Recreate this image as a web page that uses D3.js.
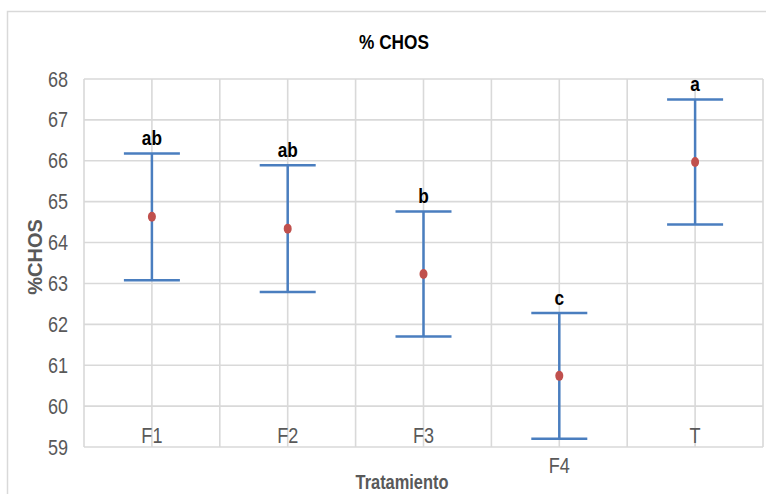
<!DOCTYPE html>
<html>
<head>
<meta charset="utf-8">
<script src="https://cdn.jsdelivr.net/npm/d3@7"></script>
<style>
  body { margin: 0; background: #fff; }
  text { font-family: "Liberation Sans Narrow", "Arial Narrow", "Liberation Sans", Arial, sans-serif; }
</style>
</head>
<body>
<div id="chart"></div>
<script>
// data
const treatments = ["F1", "F2", "F3", "F4", "T"];
const means = [64.63, 64.34, 63.23, 60.74, 65.97];
const errors = [1.55, 1.55, 1.53, 1.54, 1.53];
const letters = ["ab", "ab", "b", "c", "a"];
const yTicks = [59, 60, 61, 62, 63, 64, 65, 66, 67, 68];

const W = 766, H = 494;
const margin = { top: 79, right: 3, bottom: 47, left: 84 };
const width = W - margin.left - margin.right;
const height = H - margin.top - margin.bottom;

// squeeze text horizontally, the original uses a narrow face
function narrow(sel) {
    sel.each(function () {
        const len = this.getComputedTextLength();
        d3.select(this)
            .attr("textLength", len * 0.82)
            .attr("lengthAdjust", "spacingAndGlyphs");
    });
}

const svgRoot = d3.select("#chart")
    .append("svg")
    .attr("width", W)
    .attr("height", H);

// chart area border
svgRoot.append("rect")
    .attr("x", 7.5).attr("y", 11.5)
    .attr("width", W + 10).attr("height", H + 10)
    .attr("fill", "none")
    .attr("stroke", "#d9d9d9")
    .attr("stroke-width", 1.5);

// title
svgRoot.append("text")
    .attr("x", 394).attr("y", 49)
    .attr("text-anchor", "middle")
    .attr("font-size", 21)
    .attr("font-weight", "bold")
    .attr("fill", "#000")
    .text("% CHOS")
    .call(narrow);

const svg = svgRoot.append("g")
    .attr("transform", `translate(${margin.left}, ${margin.top})`);

const x = d3.scaleBand()
    .domain(treatments)
    .range([0, width])
    .padding(0);

const y = d3.scaleLinear()
    .domain([59, 68])
    .range([height, 0]);

// horizontal gridlines
svg.append("g")
    .selectAll("line")
    .data(yTicks)
    .join("line")
    .attr("x1", 0).attr("x2", width)
    .attr("y1", d => y(d)).attr("y2", d => y(d))
    .attr("stroke", "#d9d9d9")
    .attr("stroke-width", 1.6);

// vertical gridlines: band edges and centres
const vLines = [];
treatments.forEach(t => {
    vLines.push(x(t));
    vLines.push(x(t) + x.bandwidth() / 2);
});
vLines.push(width);
svg.append("g")
    .selectAll("line")
    .data(vLines)
    .join("line")
    .attr("x1", d => d).attr("x2", d => d)
    .attr("y1", 0).attr("y2", height)
    .attr("stroke", "#d9d9d9")
    .attr("stroke-width", 1.6);

// y axis
svg.append("g")
    .call(d3.axisLeft(y).tickValues(yTicks).tickSize(0).tickPadding(16).tickFormat(d3.format("d")))
    .call(g => g.select(".domain").remove())
    .call(g => g.selectAll("text")
        .attr("font-size", 22)
        .attr("fill", "#595959")
        .attr("font-family", null)
        .call(narrow));

// x labels (F4 sits below the axis as in the original)
svg.append("g")
    .selectAll("text")
    .data(treatments)
    .join("text")
    .attr("x", d => x(d) + x.bandwidth() / 2)
    .attr("y", d => d === "F4" ? height + 26 : height - 4)
    .attr("text-anchor", "middle")
    .attr("font-size", 22)
    .attr("fill", "#595959")
    .text(d => d)
    .call(narrow);

// axis titles
svg.append("text")
    .attr("x", 402 - margin.left)
    .attr("y", height + 42)
    .attr("text-anchor", "middle")
    .attr("font-size", 20)
    .attr("font-weight", "bold")
    .attr("fill", "#595959")
    .text("Tratamiento")
    .call(narrow);

svg.append("text")
    .attr("transform", `translate(${42 - margin.left}, ${257 - margin.top}) rotate(-90)`)
    .attr("text-anchor", "middle")
    .attr("font-size", 20)
    .attr("font-weight", "bold")
    .attr("fill", "#595959")
    .text("%CHOS");

// error bars
const rows = treatments.map((t, i) => ({ t, m: means[i], e: errors[i], l: letters[i] }));
const cap = 28;
const bars = svg.append("g")
    .attr("stroke", "#4a7ebf")
    .attr("stroke-width", 2.5);

bars.selectAll(".stem")
    .data(rows)
    .join("line")
    .attr("x1", d => x(d.t) + x.bandwidth() / 2)
    .attr("x2", d => x(d.t) + x.bandwidth() / 2)
    .attr("y1", d => y(d.m + d.e))
    .attr("y2", d => y(d.m - d.e));

bars.selectAll(".capTop")
    .data(rows)
    .join("line")
    .attr("x1", d => x(d.t) + x.bandwidth() / 2 - cap)
    .attr("x2", d => x(d.t) + x.bandwidth() / 2 + cap)
    .attr("y1", d => y(d.m + d.e))
    .attr("y2", d => y(d.m + d.e));

bars.selectAll(".capBottom")
    .data(rows)
    .join("line")
    .attr("class", "capBottom")
    .attr("x1", d => x(d.t) + x.bandwidth() / 2 - cap)
    .attr("x2", d => x(d.t) + x.bandwidth() / 2 + cap)
    .attr("y1", d => y(d.m - d.e))
    .attr("y2", d => y(d.m - d.e));

// mean markers
svg.append("g")
    .selectAll("ellipse")
    .data(rows)
    .join("ellipse")
    .attr("cx", d => x(d.t) + x.bandwidth() / 2)
    .attr("cy", d => y(d.m))
    .attr("rx", 4)
    .attr("ry", 5)
    .attr("fill", "#c0504d");

// significance letters
svg.append("g")
    .selectAll("text")
    .data(rows)
    .join("text")
    .attr("x", d => x(d.t) + x.bandwidth() / 2)
    .attr("y", d => y(d.m + d.e) - 8)
    .attr("text-anchor", "middle")
    .attr("font-size", 21)
    .attr("font-weight", "bold")
    .attr("fill", "#000")
    .text(d => d.l)
    .call(narrow);
</script>
</body>
</html>
